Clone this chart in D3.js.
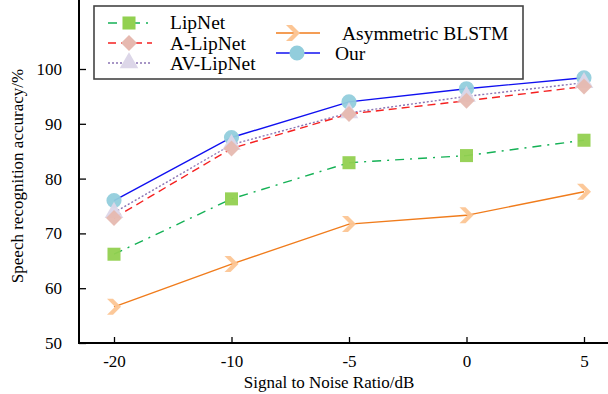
<!DOCTYPE html>
<html>
<head>
<meta charset="utf-8">
<script src="https://cdn.jsdelivr.net/npm/d3@7"></script>
<style>
  body { margin: 0; background: #fff; }
  svg { display: block; }
  svg text { font-family: "Liberation Serif", "Times New Roman", serif; }
</style>
</head>
<body>
<svg id="chart" width="608" height="394"></svg>
<script>
// SNR categories on the x axis (evenly spaced)
const snrLabels = ["-20", "-10", "-5", "0", "5"];
const yTicks = [50, 60, 70, 80, 90, 100];

// accuracy values (%)
const lipnet = [66.2, 76.3, 82.9, 84.2, 87.0];
const aLipnet = [72.8, 85.5, 91.8, 94.2, 96.8];
const avLipnet = [73.8, 86.2, 92.0, 95.0, 97.5];
const blstm = [56.6, 64.4, 71.7, 73.3, 77.6];
const our = [76.0, 87.5, 94.0, 96.4, 98.4];

const serif = "Liberation Serif, Times New Roman, serif";

const series = [
  { name: "Asymmetric BLSTM", values: blstm, stroke: "#f07c1c", dash: null, fill: "#fcc594", shape: "chevron" },
  { name: "LipNet", values: lipnet, stroke: "#14b155", dash: "9,6,2,6", fill: "#92d050", shape: "square" },
  { name: "Our", values: our, stroke: "#1010f0", dash: null, fill: "#92cddc", shape: "circle" },
  { name: "AV-LipNet", values: avLipnet, stroke: "#8a74b4", dash: "2,2", fill: "#dcd6e8", shape: "triangle" },
  { name: "A-LipNet", values: aLipnet, stroke: "#f52020", dash: "8,5", fill: "#e6b9b0", shape: "diamond" }
];

const svg = d3.select("#chart");
const x = d3.scalePoint().domain(snrLabels).range([114, 584]);
const y = d3.scaleLinear().domain([50, 100]).range([343, 69]);

// marker paths
function markerPath(shape) {
  if (shape === "square") return d3.symbol(d3.symbolSquare, 170)();
  if (shape === "circle") return d3.symbol(d3.symbolCircle, 180)();
  if (shape === "triangle") return d3.symbol(d3.symbolTriangle, 150)();
  if (shape === "diamond") return "M0,-8L8,0L0,8L-8,0Z";
  // thick ">" chevron
  return "M-7,-8L-1,-8L7,0L-1,8L-7,8L1,0Z";
}

// axes (inward ticks, no domain path)
const yAxis = d3.axisLeft(y).tickValues(yTicks).tickSizeInner(-7).tickSizeOuter(0).tickPadding(17);
const xAxis = d3.axisBottom(x).tickSizeInner(-6).tickSizeOuter(0).tickPadding(12);

const gy = svg.append("g").attr("transform", "translate(79,0)").call(yAxis);
const gx = svg.append("g").attr("transform", "translate(0,343)").call(xAxis);
[gx, gy].forEach(g => {
  g.attr("font-family", serif).attr("font-size", 17);
  g.select(".domain").remove();
  g.selectAll(".tick line").attr("stroke", "#000").attr("stroke-width", 1.3);
  g.selectAll(".tick text").attr("fill", "#000");
});

svg.append("line").attr("x1", 79).attr("x2", 79).attr("y1", 0).attr("y2", 344)
  .attr("stroke", "#000").attr("stroke-width", 2);
svg.append("line").attr("x1", 78).attr("x2", 608).attr("y1", 343).attr("y2", 343)
  .attr("stroke", "#000").attr("stroke-width", 2);

// axis titles
svg.append("text")
  .attr("x", 329).attr("y", 388)
  .attr("text-anchor", "middle").attr("font-size", 17).attr("font-family", serif)
  .text("Signal to Noise Ratio/dB");
svg.append("text")
  .attr("transform", "translate(23,176) rotate(-90)")
  .attr("text-anchor", "middle").attr("font-size", 17).attr("font-family", serif)
  .text("Speech recognition accuracy/%");

// lines
const line = d3.line().x((d, i) => x(snrLabels[i])).y(d => y(d));
svg.selectAll("path.series")
  .data(series)
  .join("path")
  .attr("class", "series")
  .attr("d", d => line(d.values))
  .attr("fill", "none")
  .attr("stroke", d => d.stroke)
  .attr("stroke-width", 1.4)
  .attr("stroke-dasharray", d => d.dash);

// markers
const markerOrder = ["Asymmetric BLSTM", "LipNet", "Our", "AV-LipNet", "A-LipNet"];
markerOrder.forEach(name => {
  const s = series.find(d => d.name === name);
  svg.append("g")
    .selectAll("path")
    .data(s.values)
    .join("path")
    .attr("transform", (d, i) => `translate(${x(snrLabels[i])},${y(d)})`)
    .attr("d", markerPath(s.shape))
    .attr("fill", s.fill)
    .attr("opacity", 0.95);
});

// legend
const legend = svg.append("g");
legend.append("rect")
  .attr("x", 94).attr("y", 6).attr("width", 429).attr("height", 73)
  .attr("fill", "#fff").attr("stroke", "#444").attr("stroke-width", 1.6);

const legendItems = [
  { name: "LipNet", lx: 108, ly: 23, tx: 170, ty: 29 },
  { name: "A-LipNet", lx: 108, ly: 43, tx: 170, ty: 50 },
  { name: "AV-LipNet", lx: 108, ly: 63, tx: 170, ty: 70 },
  { name: "Asymmetric BLSTM", lx: 276, ly: 33, tx: 342, ty: 40 },
  { name: "Our", lx: 276, ly: 53, tx: 335, ty: 60 }
];
legendItems.forEach(it => {
  const s = series.find(d => d.name === it.name);
  const g = legend.append("g");
  g.append("line")
    .attr("x1", it.lx).attr("x2", it.lx + 44)
    .attr("y1", it.ly).attr("y2", it.ly)
    .attr("stroke", s.stroke).attr("stroke-width", 1.4)
    .attr("stroke-dasharray", s.dash);
  g.append("path")
    .attr("transform", `translate(${it.lx + (s.shape === "chevron" ? 17 : 21)},${it.ly})`)
    .attr("d", markerPath(s.shape))
    .attr("fill", s.fill);
  g.append("text")
    .attr("x", it.tx).attr("y", it.ty)
    .attr("font-size", 19.5).attr("font-family", serif)
    .text(it.name);
});
</script>
</body>
</html>
